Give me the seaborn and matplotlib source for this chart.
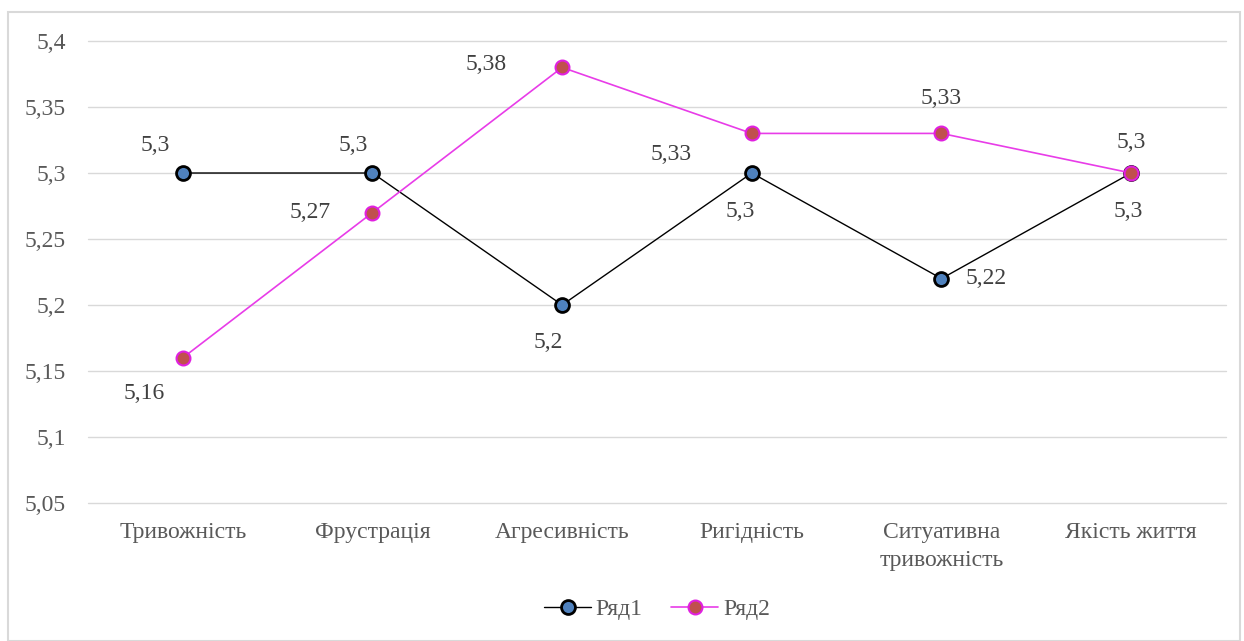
import pandas as pd
import seaborn as sns
import matplotlib.pyplot as plt
from matplotlib.patches import Rectangle
from matplotlib.ticker import FuncFormatter, MultipleLocator

categories = ['Тривожність', 'Фрустрація', 'Агресивність', 'Ригідність',
              'Ситуативна\nтривожність', 'Якість життя']
row1 = [5.30, 5.30, 5.20, 5.30, 5.22, 5.30]
row2 = [5.16, 5.27, 5.38, 5.33, 5.33, 5.30]

# label offsets in points (dx, dy) for each data label
offsets1 = [(-20, 20), (-14, 20), (-10, -27), (-8, -28), (32, 0), (-2, -28)]
offsets2 = [(-28, -26), (-45, 0), (-55, 2), (-58, -15), (0, 25), (0, 22)]

sns.set_style('white')
plt.rcParams['font.family'] = ['Liberation Serif', 'DejaVu Serif']

fig = plt.figure(figsize=(12.44, 6.41), dpi=100)
ax = fig.add_axes([0.0707, 0.2153, 0.9148, 0.7207])

df1 = pd.DataFrame({'cat': categories, 'val': row1})
df2 = pd.DataFrame({'cat': categories, 'val': row2})

sns.lineplot(data=df1, x='cat', y='val', ax=ax, sort=False, color='black', lw=1,
             marker='o', markersize=10, markerfacecolor='#4F81BD',
             markeredgecolor='black', markeredgewidth=2, label='Ряд1')
sns.lineplot(data=df2, x='cat', y='val', ax=ax, sort=False, color='#E83CE8', lw=1.2,
             marker='o', markersize=10, markerfacecolor='#C0504D',
             markeredgecolor='#E020E0', markeredgewidth=1.5, label='Ряд2')

def fmt(v):
    return f'{v:g}'.replace('.', ',')

for i, v in enumerate(row1):
    dx, dy = offsets1[i]
    ax.annotate(fmt(v), (i, v), xytext=(dx, dy), textcoords='offset points',
                ha='center', va='center', fontsize=17, color='#404040')
for i, v in enumerate(row2):
    dx, dy = offsets2[i]
    ax.annotate(fmt(v), (i, v), xytext=(dx, dy), textcoords='offset points',
                ha='center', va='center', fontsize=17, color='#404040')

ax.set_xlim(-0.5, 5.5)
ax.set_ylim(5.05, 5.4)
ax.yaxis.set_major_locator(MultipleLocator(0.05))
ax.yaxis.set_major_formatter(FuncFormatter(lambda v, p: f'{v:.2f}'.rstrip('0').replace('.', ',')))
ax.grid(axis='y', color='#D9D9D9', lw=1)
for gl in ax.get_ygridlines():
    gl.set_clip_on(False)
ax.set_axisbelow(True)
for s in ax.spines.values():
    s.set_visible(False)
ax.tick_params(axis='both', length=0, labelsize=17, labelcolor='#595959')
ax.tick_params(axis='x', pad=14)
ax.tick_params(axis='y', pad=16)
for t in ax.get_xticklabels():
    t.set_linespacing(1.4)
ax.set_xlabel('')
ax.set_ylabel('')

ax.legend(loc='center', bbox_to_anchor=(0.5, -0.23), ncol=2, frameon=False,
          fontsize=17, labelcolor='#595959', handlelength=2.0, handletextpad=0.2,
          columnspacing=1.2, markerscale=1.0)

fig.patches.append(Rectangle((8 / 1244, 0), 1232 / 1244, 629 / 641,
                             transform=fig.transFigure, fill=False,
                             edgecolor='#D9D9D9', lw=1.5))

plt.savefig('out.png', dpi=100)
